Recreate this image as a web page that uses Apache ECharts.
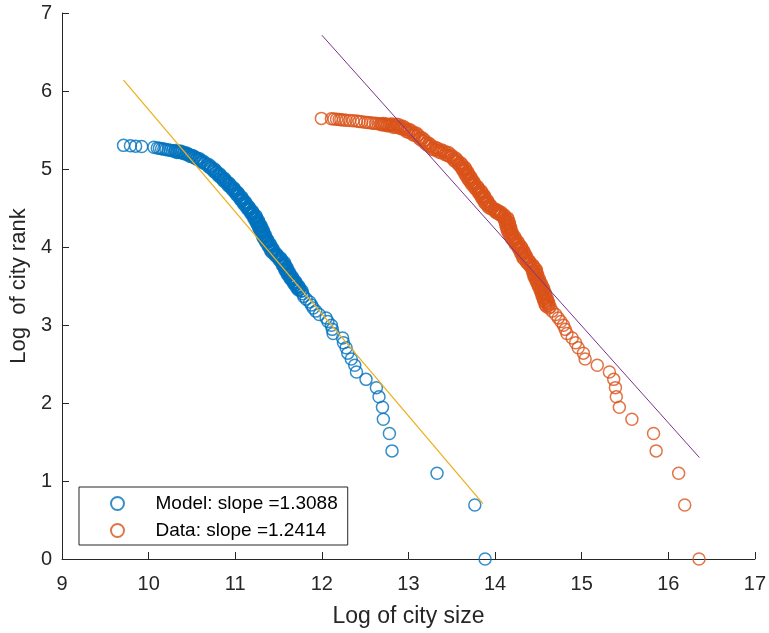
<!DOCTYPE html>
<html>
<head>
<meta charset="utf-8">
<script src="https://cdn.jsdelivr.net/npm/echarts@6/dist/echarts.min.js"></script>
<style>html,body{margin:0;padding:0;background:#fff;}#c{width:769px;height:633px;}</style>
</head>
<body>
<div id="c"></div>
<script>
var xTicks = [9, 10, 11, 12, 13, 14, 15, 16, 17];
var yTicks = [0, 1, 2, 3, 4, 5, 6, 7];
var legendNames = ['Model: slope =1.3088', 'Data: slope =1.2414'];

// Model (blue) points: sparse tail, dense band, flat head
var modelX = [13.885,13.766,13.33,12.81,12.78,12.71,12.70,12.66,12.63,12.51,12.40,12.38,12.34,12.30,12.28,12.25,12.24,12.13,12.12,12.11,12.07,12.05,11.97,11.93,11.90,11.88,11.86,11.82,11.79,11.78,11.76,
11.772,11.73,11.743,11.712,11.741,11.715,11.733,11.692,11.706,11.675,11.703,11.675,11.695,11.655,11.668,11.637,11.665,11.638,11.657,11.615,11.63,11.60,11.63,11.605,11.625,11.585,11.60,11.57,11.60,11.576,11.596,11.557,11.572,11.543,11.573,11.549,11.569,11.528,11.54,11.508,11.535,11.508,11.525,11.483,11.495,11.46,11.485,11.455,11.47,11.425,11.44,11.41,11.44,11.415,11.435,11.395,11.41,11.38,11.41,11.384,11.404,11.363,11.378,11.347,11.377,11.351,11.371,11.33,11.345,11.316,11.348,11.324,11.345,11.306,11.323,11.294,11.325,11.301,11.322,11.282,11.298,11.269,11.30,11.275,11.296,11.256,11.272,11.242,11.272,11.247,11.268,11.228,11.244,11.214,11.245,11.22,11.24,11.198,11.211,11.179,11.207,11.18,11.199,11.157,11.17,11.138,11.166,11.139,11.157,11.115,11.129,11.097,11.125,11.098,11.117,11.075,11.089,11.057,11.085,11.058,11.076,11.033,11.046,11.013,11.041,11.013,11.031,10.988,11.001,10.968,10.995,10.966,10.982,10.938,10.95,10.916,10.942,10.913,10.929,10.885,10.896,10.862,10.888,10.858,10.874,10.83,10.841,10.807,10.833,10.803,10.819,10.775,10.785,10.75,10.775,10.745,10.76,10.715,10.725,10.69,10.712,10.678,10.69,10.642,10.648,10.61,10.632,10.598,
10.5875,10.575,10.5625,10.55,10.5375,10.525,10.5125,10.50,10.4875,10.475,10.4625,10.45,10.4375,10.425,10.4125,10.40,10.3875,10.375,10.3625,10.35,10.3375,10.325,10.3125,10.30,10.275,10.25,10.225,10.20,10.175,10.15,10.125,10.10,
10.06,9.92,9.85,9.79,9.71];
var modelY = [0,0.693,1.099,1.386,1.609,1.792,1.946,2.079,2.197,2.303,2.398,2.485,2.565,2.639,2.708,2.773,2.833,2.890,2.944,2.996,3.045,3.091,3.135,3.178,3.219,3.258,3.296,3.332,3.367,3.401,3.434,
3.44,3.45,3.46,3.47,3.48,3.49,3.50,3.51,3.52,3.53,3.54,3.55,3.56,3.57,3.58,3.59,3.60,3.61,3.62,3.63,3.64,3.65,3.66,3.67,3.68,3.69,3.70,3.71,3.72,3.73,3.74,3.75,3.76,3.77,3.78,3.79,3.80,3.81,3.82,3.83,3.84,3.85,3.86,3.87,3.88,3.89,3.90,3.91,3.92,3.93,3.94,3.95,3.96,3.97,3.98,3.99,4.00,4.01,4.02,4.03,4.04,4.05,4.06,4.07,4.08,4.09,4.10,4.11,4.12,4.13,4.14,4.15,4.16,4.17,4.18,4.19,4.20,4.21,4.22,4.23,4.24,4.25,4.26,4.27,4.28,4.29,4.30,4.31,4.32,4.33,4.34,4.35,4.36,4.37,4.38,4.39,4.40,4.41,4.42,4.43,4.44,4.45,4.46,4.47,4.48,4.49,4.50,4.51,4.52,4.53,4.54,4.55,4.56,4.57,4.58,4.59,4.60,4.61,4.62,4.63,4.64,4.65,4.66,4.67,4.68,4.69,4.70,4.71,4.72,4.73,4.74,4.75,4.76,4.77,4.78,4.79,4.80,4.81,4.82,4.83,4.84,4.85,4.86,4.87,4.88,4.89,4.90,4.91,4.92,4.93,4.94,4.95,4.96,4.97,4.98,4.99,5.00,5.01,5.02,5.03,5.04,5.05,5.06,5.07,5.08,5.09,5.10,5.11,
5.133,5.12,5.138,5.128,5.154,5.149,5.171,5.157,5.175,5.165,5.19,5.184,5.205,5.191,5.208,5.198,5.221,5.211,5.23,5.212,5.227,5.213,5.236,5.226,5.233,5.24,5.245,5.25,5.255,5.26,5.265,5.27,
5.278,5.288,5.293,5.298,5.303];

// Data (orange) points: sparse tail, dense band, flat head
var dataX = [16.355,16.19,16.12,15.86,15.83,15.58,15.435,15.40,15.39,15.37,15.32,15.18,15.04,15.02,14.96,14.93,14.89,14.83,14.81,14.79,14.76,14.73,14.70,14.66,14.62,
14.638,14.59,14.615,14.578,14.62,14.589,14.618,14.57,14.595,14.559,14.601,14.57,14.60,14.551,14.576,14.54,14.582,14.551,14.581,14.533,14.558,14.521,14.563,14.532,14.561,14.512,14.536,14.498,14.539,14.507,14.536,14.487,14.511,14.474,14.515,14.483,14.512,14.462,14.486,14.449,14.49,14.46,14.491,14.443,14.469,14.434,14.477,14.446,14.477,14.43,14.451,14.41,14.447,14.411,14.437,14.384,14.404,14.363,14.401,14.365,14.39,14.338,14.358,14.321,14.362,14.33,14.359,14.309,14.333,14.296,14.337,14.305,14.333,14.284,14.308,14.269,14.308,14.274,14.30,14.249,14.271,14.232,14.271,14.237,14.263,14.212,14.234,14.195,14.234,14.201,14.228,14.178,14.20,14.162,14.201,14.168,14.195,14.148,14.174,14.138,14.181,14.15,14.181,14.134,14.159,14.124,14.166,14.136,14.166,14.119,14.145,14.11,14.152,14.122,14.147,14.093,14.113,14.072,14.108,14.072,
14.071,14.063,14.055,14.047,14.038,14.03,14.022,14.013,14.005,13.997,13.988,
14.005,13.949,13.966,13.922,13.956,13.92,13.946,13.895,13.917,13.878,13.918,13.884,13.911,13.86,13.882,13.844,13.883,13.85,13.877,13.827,13.849,13.811,13.85,13.815,13.84,13.788,13.808,13.768,13.805,13.77,13.795,13.743,13.763,13.723,13.76,13.727,13.754,13.703,13.725,13.687,13.726,13.692,13.72,13.669,13.692,13.653,13.693,13.66,13.687,13.637,13.66,13.621,13.661,13.627,13.654,13.602,13.624,13.581,13.617,13.579,13.603,13.548,13.566,13.524,13.559,13.522,13.545,13.489,13.506,13.462,13.496,
13.4625,13.45,13.4375,13.425,13.4125,13.40,13.3875,13.375,13.3625,13.35,13.3375,13.325,13.3125,13.30,13.2875,13.275,13.2625,13.25,13.2375,13.225,13.2125,13.20,13.1875,13.175,13.1625,13.15,13.1375,13.125,13.1125,13.10,13.0875,13.075,13.0625,13.05,13.0375,13.025,13.0125,13.00,12.9875,12.975,12.9625,12.95,12.9375,12.925,12.9125,12.90,12.8875,12.875,12.8625,12.85,12.8375,12.825,12.8125,12.80,12.7875,12.775,12.7625,12.75,12.7375,12.725,12.7125,12.70,12.6875,12.675,
12.65,12.62,12.59,12.56,12.53,12.50,12.46,12.43,12.40,12.36,12.32,12.28,12.25,12.22,12.20,12.17,12.14,12.11,11.995];
var dataY = [0,0.693,1.099,1.386,1.609,1.792,1.946,2.079,2.197,2.303,2.398,2.485,2.565,2.639,2.708,2.773,2.833,2.890,2.944,2.996,3.045,3.091,3.135,3.178,3.219,
3.23,3.24,3.25,3.26,3.27,3.28,3.29,3.30,3.31,3.32,3.33,3.34,3.35,3.36,3.37,3.38,3.39,3.40,3.41,3.42,3.43,3.44,3.45,3.46,3.47,3.48,3.49,3.50,3.51,3.52,3.53,3.54,3.55,3.56,3.57,3.58,3.59,3.60,3.61,3.62,3.63,3.64,3.65,3.66,3.67,3.68,3.69,3.70,3.71,3.72,3.73,3.74,3.75,3.76,3.77,3.78,3.79,3.80,3.81,3.82,3.83,3.84,3.85,3.86,3.87,3.88,3.89,3.90,3.91,3.92,3.93,3.94,3.95,3.96,3.97,3.98,3.99,4.00,4.01,4.02,4.03,4.04,4.05,4.06,4.07,4.08,4.09,4.10,4.11,4.12,4.13,4.14,4.15,4.16,4.17,4.18,4.19,4.20,4.21,4.22,4.23,4.24,4.25,4.26,4.27,4.28,4.29,4.30,4.31,4.32,4.33,4.34,4.35,4.36,4.37,4.38,4.39,4.40,4.41,4.42,
4.445,4.415,4.443,4.42,4.465,4.437,4.463,4.44,4.485,4.457,4.483,
4.48,4.49,4.50,4.51,4.52,4.53,4.54,4.55,4.56,4.57,4.58,4.59,4.60,4.61,4.62,4.63,4.64,4.65,4.66,4.67,4.68,4.69,4.70,4.71,4.72,4.73,4.74,4.75,4.76,4.77,4.78,4.79,4.80,4.81,4.82,4.83,4.84,4.85,4.86,4.87,4.88,4.89,4.90,4.91,4.92,4.93,4.94,4.95,4.96,4.97,4.98,4.99,5.00,5.01,5.02,5.03,5.04,5.05,5.06,5.07,5.08,5.09,5.10,5.11,5.12,5.13,5.14,5.15,5.16,5.17,5.18,
5.21,5.176,5.207,5.183,5.229,5.209,5.244,5.209,5.24,5.217,5.262,5.243,5.277,5.243,5.273,5.252,5.303,5.29,5.33,5.301,5.337,5.32,5.371,5.357,5.397,5.368,5.405,5.387,5.438,5.424,5.463,5.43,5.462,5.44,5.487,5.469,5.505,5.472,5.504,5.482,5.529,5.511,5.547,5.514,5.546,5.524,5.566,5.543,5.573,5.535,5.562,5.535,5.576,5.553,5.573,5.555,5.569,5.556,5.578,5.567,5.583,5.565,5.58,5.574,
5.58,5.585,5.588,5.592,5.597,5.60,5.605,5.61,5.615,5.62,5.623,5.626,5.629,5.632,5.635,5.637,5.64,5.643,5.649];

// Fitted lines (end points)
var modelFitX = [9.71, 13.86];
var modelFitY = [6.14, 0.71];
var dataFitX = [12.0, 16.36];
var dataFitY = [6.716, 1.30];

function pairs(xs, ys) { return xs.map(function (v, i) { return [v, ys[i]]; }); }

var FONT = '"Liberation Sans", Arial, Helvetica, sans-serif';
var AX = '#262626';

var chart = echarts.init(document.getElementById('c'), null, { renderer: 'canvas' });
chart.setOption({
  animation: false,
  backgroundColor: '#ffffff',
  grid: { left: 61, right: 12, top: 13, bottom: 71, containLabel: false },
  xAxis: {
    type: 'value', min: xTicks[0], max: xTicks[xTicks.length - 1], interval: 1,
    name: 'Log of city size', nameLocation: 'middle', nameGap: 46,
    nameTextStyle: { fontFamily: FONT, fontSize: 23, color: AX },
    axisLine: { show: true, onZero: false, lineStyle: { color: AX, width: 1 } },
    axisTick: { show: true, inside: true, length: 7, lineStyle: { color: AX } },
    axisLabel: { fontFamily: FONT, fontSize: 20, color: AX, margin: 15 },
    splitLine: { show: false }
  },
  yAxis: {
    type: 'value', min: yTicks[0], max: yTicks[yTicks.length - 1], interval: 1,
    name: 'Log  of city rank', nameLocation: 'middle', nameGap: 25,
    nameTextStyle: { fontFamily: FONT, fontSize: 22, color: AX },
    axisLine: { show: true, onZero: false, lineStyle: { color: AX, width: 1 } },
    axisTick: { show: true, inside: true, length: 7, lineStyle: { color: AX } },
    axisLabel: { fontFamily: FONT, fontSize: 20, color: AX, margin: 10 },
    splitLine: { show: false }
  },
  legend: {
    data: legendNames,
    orient: 'vertical',
    left: 79, top: 487,
    padding: [7, 10, 5, 31],
    itemWidth: 66, itemHeight: 13, itemGap: 8,
    icon: 'circle',
    borderColor: AX, borderWidth: 1, backgroundColor: '#fff',
    textStyle: { fontFamily: FONT, fontSize: 19, color: '#000' },
    selectedMode: false
  },
  series: [
    {
      name: legendNames[0], type: 'scatter', symbol: 'circle', symbolSize: 12,
      data: pairs(modelX, modelY), large: false,
      itemStyle: { color: 'rgba(0,0,0,0)', borderColor: '#0072BD', borderWidth: 1.5 },
      z: 2
    },
    {
      name: legendNames[1], type: 'scatter', symbol: 'circle', symbolSize: 12,
      data: pairs(dataX, dataY), large: false,
      itemStyle: { color: 'rgba(0,0,0,0)', borderColor: '#D95319', borderWidth: 1.5 },
      z: 2
    },
    {
      name: 'modelFit', type: 'line', data: pairs(modelFitX, modelFitY), showSymbol: false, symbol: 'none',
      lineStyle: { color: '#EDB120', width: 1.3 }, z: 3, silent: true
    },
    {
      name: 'dataFit', type: 'line', data: pairs(dataFitX, dataFitY), showSymbol: false, symbol: 'none',
      lineStyle: { color: '#7E2F8E', width: 1 }, z: 3, silent: true
    }
  ]
});
</script>
</body>
</html>
